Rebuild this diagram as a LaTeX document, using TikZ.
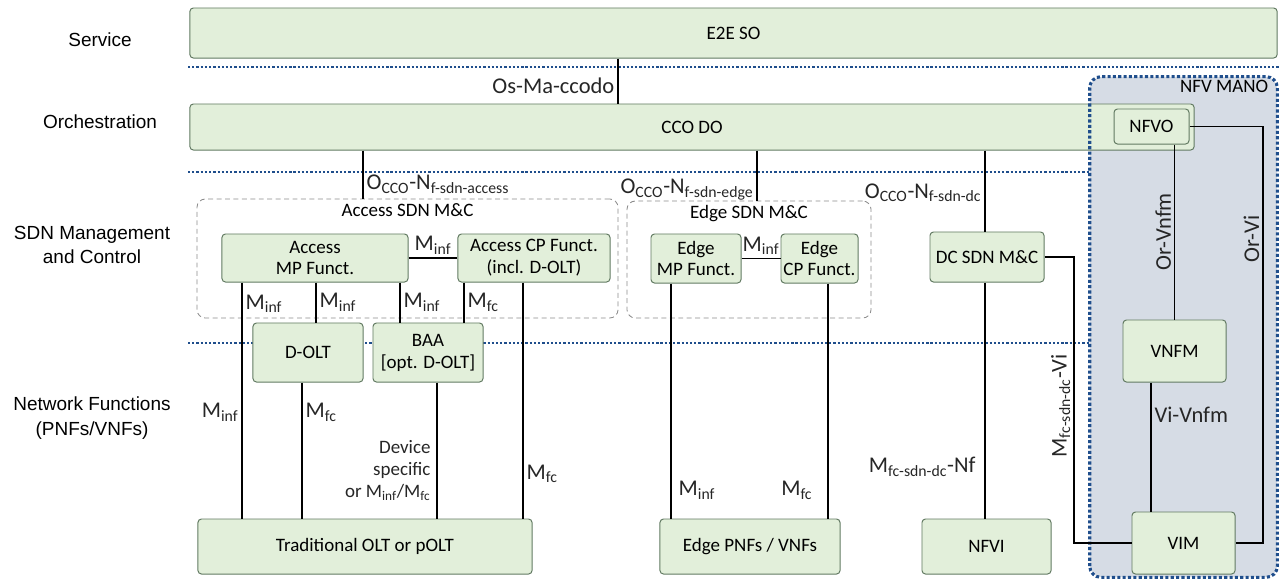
\documentclass[tikz,border=0pt]{standalone}
\usepackage{fontspec}
\setmainfont{Carlito}
\newfontfamily\arialfont{Liberation Sans}

\definecolor{boxgreen}{HTML}{E2EFDA}
\definecolor{boxedge}{HTML}{627A62}
\definecolor{grpgray}{HTML}{8C8C8C}
\definecolor{dotblue}{HTML}{1F4E8C}
\definecolor{manofill}{HTML}{D6DCE5}

\begin{document}
\begin{tikzpicture}[
x=0.025cm, y=-0.025cm,
box/.style={draw=boxedge, fill=boxgreen, rounded corners=2.5pt, line width=0.7pt, inner sep=0pt, align=center, font=\fontsize{13.5}{15.6}\selectfont},
group/.style={draw=grpgray, dash pattern=on 3.5pt off 2.5pt, rounded corners=6pt, line width=0.6pt, inner sep=0pt},
gtitle/.style={anchor=north, inner sep=3pt, font=\fontsize{13.5}{15.6}\selectfont},
lane/.style={draw=dotblue, line width=1.6pt, dash pattern=on 1.6pt off 1.4pt},
mano/.style={fill=manofill, rounded corners=8pt, inner sep=0pt},
manoedge/.style={draw=dotblue, line width=2.2pt, dash pattern=on 2.2pt off 1.6pt, rounded corners=8pt},
link/.style={line width=1.2pt},
thinlink/.style={line width=1pt},
ifl/.style={font=\fontsize{16}{19}\selectfont, text=black!85, inner sep=2pt},
devl/.style={font=\fontsize{13.5}{15.6}\selectfont, text=black!85, inner sep=4pt, align=right},
tier/.style={font=\arialfont\fontsize{13.5}{17.5}\selectfont, align=center}
]

\useasboundingbox (0,0) rectangle (1279,579);

\node[tier] (svc) at (100,40) {Service};

\node[tier] (orch) at (100,122) {Orchestration};

\node[tier] (sdnmc) at (92,245) {SDN Management\\and Control};

\node[tier] (nf) at (92,418) {Network Functions\\(PNFs/VNFs)};

\node[mano, minimum width=4.675cm, minimum height=12.5cm] (mano) at (1183.5,327) {};

\draw[lane] (188,67) -- (1279,67);

\draw[lane] (188,172) -- (1090,172);

\draw[lane] (188,343) -- (1090,343);

\coordinate (tosma) at (618,0);
\coordinate (tacc) at (363,0);
\coordinate (tedge) at (757,0);
\coordinate (tdc) at (985,0);
\coordinate (tm1) at (242,0);
\coordinate (tm2) at (316,0);
\coordinate (tm3) at (400,0);
\coordinate (tc1) at (464,0);
\coordinate (tc2) at (523,0);
\coordinate (tdolt) at (302,0);
\coordinate (tbaa) at (437,0);
\coordinate (temp) at (671,0);
\coordinate (tecp) at (828,0);
\coordinate (tvi) at (1074,0);
\coordinate (torvi) at (1263,0);
\coordinate (tvv) at (1151,0);

\node[box, minimum width=27.175cm, minimum height=1.25cm] (e2e) at (733.5,33) {E2E SO};

\node[box, minimum width=25.1cm, minimum height=1.15cm] (cco) at (692,127) {CCO DO};

\node[box, minimum width=1.875cm, minimum height=0.875cm] (nfvo) at (1151.5,126.5) {NFVO};

\draw[manoedge] (mano.south west) rectangle (mano.north east);

\node[anchor=north east, inner sep=0pt, xshift=-0.22cm, yshift=-0.08cm, font=\fontsize{13.5}{15.6}\selectfont] (manot) at (mano.north east) {NFV MANO};

\node[group, minimum width=10.525cm, minimum height=2.975cm] (acc) at (407.5,258.5) {};

\node[gtitle] (acct) at (acc.north) {Access SDN M\&C};

\node[group, minimum width=6.1cm, minimum height=2.925cm] (edg) at (749,259.5) {};

\node[gtitle] (edgt) at (edg.north) {Edge SDN M\&C};

\node[box, minimum width=4.65cm, minimum height=1.2cm] (mpa) at (315,258) {Access\\MP Funct.};

\node[box, minimum width=3.8cm, minimum height=1.2cm] (cpa) at (534,258) {Access CP Funct.\\(incl. D-OLT)};

\node[box, minimum width=2.75cm, minimum height=1.475cm] (dolt) at (308,352.5) {D-OLT};

\node[box, minimum width=2.75cm, minimum height=1.475cm] (baa) at (428,352.5) {BAA\\{[opt. D-OLT]}};

\node[box, minimum width=8.35cm, minimum height=1.375cm] (tolt) at (365,546.5) {Traditional OLT or pOLT};

\node[box, minimum width=2.25cm, minimum height=1.225cm] (emp) at (696,258.5) {Edge\\MP Funct.};

\node[box, minimum width=1.925cm, minimum height=1.225cm] (ecp) at (819.5,258.5) {Edge\\CP Funct.};

\node[box, minimum width=2.85cm, minimum height=1.25cm] (dc) at (987,257) {DC SDN M\&C};

\node[box, minimum width=4.5cm, minimum height=1.375cm] (epnf) at (750,546.5) {Edge PNFs / VNFs};

\node[box, minimum width=3.225cm, minimum height=1.375cm] (nfvi) at (986.5,546.5) {NFVI};

\node[box, minimum width=2.575cm, minimum height=1.55cm] (vnfm) at (1174.5,351) {VNFM};

\node[box, minimum width=2.575cm, minimum height=1.55cm] (vim) at (1183.5,543) {VIM};

\draw[link] (e2e.south -| tosma) -- node[ifl, left, pos=0.6] {Os-Ma-ccodo} (cco.north -| tosma);

\draw[link] (cco.south -| tacc) -- node[ifl, right, pos=0.7] {O\textsubscript{CCO}-N\textsubscript{f-sdn-access}} (acc.north -| tacc);

\draw[link] (cco.south -| tedge) -- node[ifl, left, pos=0.78] {O\textsubscript{CCO}-N\textsubscript{f-sdn-edge}} (edg.north -| tedge);

\draw[link] (cco.south -| tdc) -- node[ifl, left, pos=0.52] {O\textsubscript{CCO}-N\textsubscript{f-sdn-dc}} (dc.north -| tdc);

\draw[link] (mpa.east) -- node[ifl, above] {M\textsubscript{inf}} (cpa.west);

\draw[link] (mpa.south -| tm1) -- node[ifl, right, pos=0.09] {M\textsubscript{inf}} node[ifl, left, pos=0.55] {M\textsubscript{inf}} (tolt.north -| tm1);

\draw[link] (mpa.south -| tm2) -- node[ifl, right] {M\textsubscript{inf}} (dolt.north -| tm2);

\draw[link] (mpa.south -| tm3) -- node[ifl, right] {M\textsubscript{inf}} (baa.north -| tm3);

\draw[link] (cpa.south -| tc1) -- node[ifl, right] {M\textsubscript{fc}} (baa.north -| tc1);

\draw[link] (cpa.south -| tc2) -- node[ifl, right, pos=0.81] {M\textsubscript{fc}} (tolt.north -| tc2);

\draw[link] (dolt.south -| tdolt) -- node[ifl, right, pos=0.22] {M\textsubscript{fc}} (tolt.north -| tdolt);

\draw[link] (baa.south -| tbaa) -- node[devl, left, pos=0.65] {Device\\specific\\or M\textsubscript{inf}/M\textsubscript{fc}} (tolt.north -| tbaa);

\draw[link] (emp.east) -- node[ifl, above] {M\textsubscript{inf}} (ecp.west);

\draw[link] (emp.south -| temp) -- node[ifl, right, pos=0.88, xshift=0.1cm] {M\textsubscript{inf}} (epnf.north -| temp);

\draw[link] (ecp.south -| tecp) -- node[ifl, left, pos=0.88, xshift=-0.3cm] {M\textsubscript{fc}} (epnf.north -| tecp);

\draw[thinlink] (dc.south -| tdc) -- node[ifl, left, pos=0.78, xshift=-0.15cm] {M\textsubscript{fc-sdn-dc}-Nf} (nfvi.north -| tdc);

\draw[link] (dc.east) -- (dc.east -| tvi) -- node[ifl, rotate=90, anchor=south, pos=0.52] {M\textsubscript{fc-sdn-dc}-Vi} (vim.west -| tvi) -- (vim.west);

\draw[thinlink] (nfvo.south -| vnfm.north) -- node[ifl, rotate=90, anchor=south] {Or-Vnfm} (vnfm.north);

\draw[link] (nfvo.east) -- (nfvo.east -| torvi) -- node[ifl, rotate=90, anchor=south, pos=0.27] {Or-Vi} (vim.east -| torvi) -- (vim.east);

\draw[thinlink] (vnfm.south -| tvv) -- node[ifl, right, pos=0.25] {Vi-Vnfm} (vim.north -| tvv);

\end{tikzpicture}
\end{document}
